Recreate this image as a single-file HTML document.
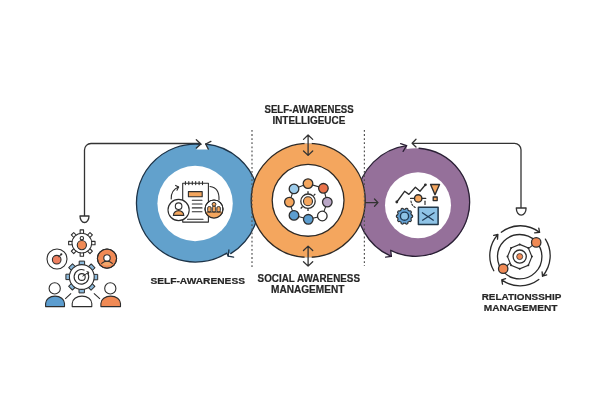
<!DOCTYPE html>
<html><head><meta charset="utf-8">
<style>
html,body{margin:0;padding:0;background:#fff;width:600px;height:420px;overflow:hidden}
svg{display:block;will-change:transform}
text{font-family:"Liberation Sans",sans-serif;font-weight:bold;fill:#262626;stroke:#262626;stroke-width:0.2}
</style></head>
<body>
<svg width="600" height="420" viewBox="0 0 600 420">
<g fill="none" stroke="#333" stroke-width="1.3" stroke-linecap="round" stroke-linejoin="round">
  <!-- left connector -->
  <path d="M84.5 216 V150 A6.5 6.5 0 0 1 91 143.5 H200"/>
  <path d="M80 216 H89 A4.5 6.5 0 0 1 80 216 Z" fill="#fff"/>
  <!-- right connector -->
  <path d="M521 208 V149.8 A6.5 6.5 0 0 0 514.5 143.3 H413"/>
  <path d="M516.3 208 H526.1 A4.9 7.2 0 0 1 516.3 208 Z" fill="#fff"/>
</g>

<!-- purple ring -->
<path d="M391.4 256.4 A58 58 0 0 1 406.6 145.7 L406.6 149.1 A54.1 54.1 0 1 1 390.7 250.3 Z" fill="#95709A"/>
<g fill="none" stroke="#2a2035" stroke-width="1.3" stroke-linecap="round" stroke-linejoin="round">
  <path d="M391.4 256.4 A58 58 0 0 1 406.6 145.7"/>
  <path d="M419 148.25 A54.1 54.1 0 1 1 390.7 250.3 L391.4 256.4 L385.6 257.2"/>
  <path d="M400.6 143.7 L406.6 145.7 L403.1 151.4"/>
</g>
<circle cx="418" cy="205.2" r="33" fill="#fff"/>

<!-- blue ring -->
<path d="M200.9 144.36 A59 59 0 1 0 226.8 253.1 L230.75 253.6 A59.3 59.3 0 0 0 205.7 144 L208.3 149.4 L196.3 149.4 Z" fill="#62A1CC"/>
<g fill="none" stroke="#1d3347" stroke-width="1.3" stroke-linecap="round" stroke-linejoin="round">
  <path d="M200.9 144.36 A59 59 0 1 0 226.8 253.1 L228.2 256.1"/>
  <path d="M230.75 253.6 A59.3 59.3 0 0 0 205.7 144"/>
  <path d="M228.9 250 L228.2 256.1 L233.6 257.1"/>
</g>
<circle cx="195.1" cy="203.5" r="37.7" fill="#fff"/>

<!-- orange ring -->
<circle cx="308.2" cy="200.4" r="57" fill="#F4A65E" stroke="#2e2a26" stroke-width="1.3"/>
<circle cx="308.1" cy="200.35" r="35.9" fill="#fff" stroke="#2e2a26" stroke-width="1.3"/>

<!-- left group icon -->
<g stroke="#2d2d2d" stroke-width="1.1" stroke-linejoin="round">
  <rect x="80.15" y="229.9" width="3.4" height="4.2" fill="#fff" stroke-width="1.1" transform="rotate(0.0 81.85 243.1)"/>
  <rect x="80.15" y="229.9" width="3.4" height="4.2" fill="#fff" stroke-width="1.1" transform="rotate(45.0 81.85 243.1)"/>
  <rect x="80.15" y="229.9" width="3.4" height="4.2" fill="#fff" stroke-width="1.1" transform="rotate(90.0 81.85 243.1)"/>
  <rect x="80.15" y="229.9" width="3.4" height="4.2" fill="#fff" stroke-width="1.1" transform="rotate(135.0 81.85 243.1)"/>
  <rect x="80.15" y="229.9" width="3.4" height="4.2" fill="#fff" stroke-width="1.1" transform="rotate(180.0 81.85 243.1)"/>
  <rect x="80.15" y="229.9" width="3.4" height="4.2" fill="#fff" stroke-width="1.1" transform="rotate(225.0 81.85 243.1)"/>
  <rect x="80.15" y="229.9" width="3.4" height="4.2" fill="#fff" stroke-width="1.1" transform="rotate(270.0 81.85 243.1)"/>
  <rect x="80.15" y="229.9" width="3.4" height="4.2" fill="#fff" stroke-width="1.1" transform="rotate(315.0 81.85 243.1)"/>
  <circle cx="81.85" cy="243.1" r="9.9" fill="#fff"/>
  <circle cx="81.85" cy="245.1" r="4.6" fill="#F08A55"/>
  <circle cx="81.85" cy="238.2" r="1.7" fill="#fff" stroke-width="1.1"/>
  <circle cx="57" cy="259" r="10" fill="#fff"/>
  <circle cx="56.7" cy="259.7" r="4.3" fill="#EE8060"/>
  <path d="M58.5 257.2 L61 254.5" fill="none"/>
  <circle cx="61.3" cy="254.3" r="1.1" fill="#2d2d2d" stroke="none"/>
  <circle cx="107" cy="258.6" r="9.6" fill="#F08A55"/>
  <path d="M101.6 263.8 Q107 258.8 112.4 263.8 A9.6 9.6 0 0 1 101.6 263.8 Z" fill="#F3A76B" stroke="none"/>
  <path d="M101.3 263.6 Q107 258.6 112.7 263.6" fill="none"/>
  <circle cx="107" cy="257.9" r="3.2" fill="#fff"/>
  <circle cx="107" cy="258.6" r="9.6" fill="none"/>
  <rect x="79.2" y="261.1" width="5.4" height="4.6" fill="#8AB8DA" stroke-width="1.0" transform="rotate(0.0 81.8 277)"/>
  <rect x="79.2" y="261.1" width="5.4" height="4.6" fill="#8AB8DA" stroke-width="1.0" transform="rotate(45.0 81.8 277)"/>
  <rect x="79.2" y="261.1" width="5.4" height="4.6" fill="#8AB8DA" stroke-width="1.0" transform="rotate(90.0 81.8 277)"/>
  <rect x="79.2" y="261.1" width="5.4" height="4.6" fill="#8AB8DA" stroke-width="1.0" transform="rotate(135.0 81.8 277)"/>
  <rect x="79.2" y="261.1" width="5.4" height="4.6" fill="#8AB8DA" stroke-width="1.0" transform="rotate(180.0 81.8 277)"/>
  <rect x="79.2" y="261.1" width="5.4" height="4.6" fill="#8AB8DA" stroke-width="1.0" transform="rotate(225.0 81.8 277)"/>
  <rect x="79.2" y="261.1" width="5.4" height="4.6" fill="#8AB8DA" stroke-width="1.0" transform="rotate(270.0 81.8 277)"/>
  <rect x="79.2" y="261.1" width="5.4" height="4.6" fill="#8AB8DA" stroke-width="1.0" transform="rotate(315.0 81.8 277)"/>
  <circle cx="81.8" cy="277" r="12.4" fill="#fff"/>
  <path d="M87.5 272.8 A7.3 7.3 0 1 1 84.5 270.2" fill="none"/>
  <circle cx="81.8" cy="277" r="3.4" fill="none"/>
  <path d="M82.5 276.3 L88.6 272.3 M86.6 271.5 L88.8 272.2 L88.2 274.4" fill="none" stroke-width="1"/>
  <path d="M65.2 298.9 L71.1 293.3 M93.9 293.3 L100 298.9" fill="none"/>
  <circle cx="54.7" cy="288.4" r="5.6" fill="#fff"/>
  <path d="M45.6 306.6 V303.5 A9.45 7.4 0 0 1 64.5 303.5 V306.6 Z" fill="#5C9DCF"/>
  <path d="M72.2 306.6 V303.5 A9.8 7.4 0 0 1 91.8 303.5 V306.6 Z" fill="#fff"/>
  <circle cx="110.3" cy="288.4" r="5.6" fill="#fff"/>
  <path d="M100.9 306.6 V303.5 A9.8 7.4 0 0 1 120.5 303.5 V306.6 Z" fill="#F08A55"/>
</g>

<!-- blue inner icon -->
<g stroke="#2d2d2d" stroke-width="1.1" fill="none" stroke-linecap="round" stroke-linejoin="round">
  <rect x="182.7" y="183.3" width="25.7" height="38.8" fill="#fff"/>
  <path d="M185.4 181.6v3M188.8 181.6v3M192.3 181.6v3M195.7 181.6v3M199.1 181.6v3M202.5 181.6v3"/>
  <rect x="188.4" y="191.6" width="13.8" height="5.2" fill="#F4A65E"/>
  <path d="M192.3 200.3h9.7M192.3 204h9.7M192.3 207.9h9.7M192.3 211.7h9.7M187.5 219.3h15.5"/>
  <path d="M171.2 199 Q171 190 178.6 187.1"/>
  <path d="M175.6 185.4 L178.6 187.1 L177 190.2"/>
  <path d="M210 186.5 Q219.5 187.5 219 200"/>
</g>
<g stroke="#2d2d2d" stroke-width="1.1">
  <circle cx="178.6" cy="210" r="10.6" fill="#fff"/>
  <circle cx="178.6" cy="206.2" r="3.3" fill="#fff"/>
  <path d="M173.4 215.4 A5.2 4.8 0 0 1 183.8 215.4 Z" fill="#F4A65E"/>
  <circle cx="214" cy="209" r="9" fill="#fff"/>
  <path d="M205.4 211.6 A9 9 0 0 0 222.6 211.6 Z" fill="#F4A65E" stroke="none"/>
  <circle cx="214" cy="209" r="9" fill="none" stroke-width="1.2"/>
</g>
<g stroke="#2d2d2d" stroke-width="0.95" fill="#F4A65E">
  <rect x="207.7" y="206.6" width="3.4" height="5.4" rx="1.3"/>
  <rect x="212.3" y="206.2" width="3.4" height="5.8" rx="1.3"/>
  <rect x="216.9" y="206.6" width="3.4" height="5.4" rx="1.3"/>
  <circle cx="214" cy="204.3" r="1.9"/>
  <path d="M207 212 H221" fill="none"/>
</g>


<!-- purple inner icon -->
<g stroke="#2d2d2d" stroke-width="1.35" fill="none" stroke-linecap="round" stroke-linejoin="round">
  <path d="M396.8 202 L404.6 191.3 L408.9 194.4 L415.4 187.3 L420 191.2 L425.4 184.8"/>
  <path d="M410.6 198.4 H425.7"/>
  <path d="M411 201 Q411.5 206 416.5 208" stroke-dasharray="1.6 1.6" stroke-width="1.1"/>
  <path d="M425 201.2 V204.4" stroke-width="1.2"/>
</g>
<circle cx="396.8" cy="202" r="1.4" fill="#2d2d2d"/>
<circle cx="425.4" cy="184.8" r="1.4" fill="#2d2d2d"/>
<g stroke="#2d2d2d" stroke-width="1.4" stroke-linejoin="round">
  <circle cx="418.2" cy="198.4" r="3.7" fill="#F4A65E"/>
  <path d="M430.6 184.5 H439.5 L435 194.8 Z" fill="#F4A65E"/>
  <rect x="433.2" y="197" width="4" height="3.6" fill="#F4A65E" stroke-width="1.3"/>
  <rect x="418.4" y="207.3" width="19.7" height="17.2" fill="#8EC3E6" stroke="#22384a" stroke-width="1.5"/>
  <path d="M422 212.5 L433.7 220.6 M434.5 212.5 L422.2 220.6" fill="none" stroke="#1f3a55" stroke-width="1.2"/>
</g>
<g stroke="#2d2d2d" stroke-width="1.1">
  <path d="M411.37 214.85 A1.35 1.35 0 0 1 411.37 217.55 A7.00 7.00 0 0 1 410.85 219.15 A1.35 1.35 0 0 1 409.26 221.33 A7.00 7.00 0 0 1 407.91 222.32 A1.35 1.35 0 0 1 405.34 223.15 A7.00 7.00 0 0 1 403.66 223.15 A1.35 1.35 0 0 1 401.09 222.32 A7.00 7.00 0 0 1 399.74 221.33 A1.35 1.35 0 0 1 398.15 219.15 A7.00 7.00 0 0 1 397.63 217.55 A1.35 1.35 0 0 1 397.63 214.85 A7.00 7.00 0 0 1 398.15 213.25 A1.35 1.35 0 0 1 399.74 211.07 A7.00 7.00 0 0 1 401.09 210.08 A1.35 1.35 0 0 1 403.66 209.25 A7.00 7.00 0 0 1 405.34 209.25 A1.35 1.35 0 0 1 407.91 210.08 A7.00 7.00 0 0 1 409.26 211.07 A1.35 1.35 0 0 1 410.85 213.25 A7.00 7.00 0 0 1 411.37 214.85 Z" fill="#64A2D4"/>
  <circle cx="404.5" cy="216.2" r="4.1" fill="#8EC3E6" stroke="#1f3a55" stroke-width="1.4"/>
</g>

<!-- orange inner icon -->
<g stroke="#2d2d2d" stroke-width="1.1" fill="none">
  <polygon points="308,183.6 323.4,188.3 327.3,202.1 322.3,216 308.3,219.3 294,215.4 289.4,202.1 294,188.9"/>
</g>
<g stroke="#2d2d2d" stroke-width="1.3">
  <circle cx="308" cy="183.6" r="4.8" fill="#F4A65E"/>
  <circle cx="323.4" cy="188.3" r="4.8" fill="#E9734B"/>
  <circle cx="327.3" cy="202.1" r="4.8" fill="#B9A6C6"/>
  <circle cx="322.3" cy="216" r="4.8" fill="#fff"/>
  <circle cx="308.3" cy="219.3" r="4.8" fill="#5C9DCF"/>
  <circle cx="294" cy="215.4" r="4.8" fill="#5C9DCF"/>
  <circle cx="289.4" cy="202.1" r="4.8" fill="#F4A65E"/>
  <circle cx="294" cy="188.9" r="4.8" fill="#9CCBEA"/>
  <circle cx="308" cy="201.2" r="7.2" fill="#fff" stroke-width="1.3"/>
  <circle cx="308" cy="201.2" r="4.5" fill="#F4A65E" stroke-width="1.1"/>
</g>
<g stroke="#2d2d2d" stroke-width="0.9" fill="none">
  <path d="M308 191.3v2.4M315.3 193.9l-1.7 1.7M308 211.1v-2.4M300.7 208.5l1.7-1.7" stroke="#2d2d2d" stroke-width="1.3"/>
</g>

<!-- dotted lines -->
<g stroke="#555" stroke-width="1.2" stroke-dasharray="1.8 2.3">
  <line x1="252" y1="130" x2="252" y2="267"/>
  <line x1="364.4" y1="130" x2="364.4" y2="266"/>
</g>

<rect x="304.6" y="141.8" width="7.1" height="1.9" fill="#fff"/>
<rect x="304.6" y="143.7" width="7.1" height="2" fill="#F4A65E"/>
<rect x="304.6" y="255.2" width="7.1" height="2.1" fill="#F4A65E"/>
<rect x="304.6" y="257.3" width="7.1" height="1.9" fill="#fff"/>
<!-- arrows -->
<g fill="none" stroke="#333" stroke-width="1.3" stroke-linecap="round" stroke-linejoin="round">
  <path d="M196.3 139.7 L200.9 144 L196.3 148"/>
  <path d="M210.9 141.4 L205.7 144 L208.3 149.1"/>
  <path d="M308.1 135 V155.4 M303.5 139.4 L308.1 135 L312.7 139.4 M303.5 151 L308.1 155.4 L312.7 151"/>
  <path d="M308.1 246.1 V266.1 M303.5 250.5 L308.1 246.1 L312.7 250.5 M303.5 261.7 L308.1 266.1 L312.7 261.7"/>
  <path d="M365.5 202.6 H378 M374.5 199 L378 202.6 L374.5 206.2"/>
  <path d="M416 139.3 L412.1 143.2 L416 147"/>
</g>


<!-- relationship icon -->
<g stroke="#2a2a2a" stroke-width="1.3" fill="none" stroke-linecap="round" stroke-linejoin="round">
  <circle cx="519.7" cy="256.7" r="22.2"/>
  <path d="M501.3 232.2 A31.2 31.2 0 0 1 539.6 232.4 M534.6 232.8 L539.6 232.4 L538.8 228.2"/>
  <path d="M545.4 239.1 A31.2 31.2 0 0 1 542.5 276.2 M542.1 271.8 L542.5 276.2 L546.7 274.9"/>
  <path d="M538.8 279.5 A31.2 31.2 0 0 1 501.7 279.9 M505.6 278.6 L501.7 279.9 L502.5 284.1"/>
  <path d="M493.8 270.8 A31.2 31.2 0 0 1 497.9 234.5 M493.7 235.4 L497.9 234.5 L497.5 239.1"/>
</g>
<g stroke="#2d2d2d" stroke-width="1.1">
  <path d="M503.2 268.7 L536.2 242.4" fill="none"/>
  <path d="M519.70 244.40 L528.33 247.97 L531.90 256.60 L528.33 265.23 L519.70 268.80 L511.07 265.23 L507.50 256.60 L511.07 247.97 Z" fill="#fff" stroke-width="1.15"/>
  <circle cx="519.70" cy="244.40" r="1" fill="#2d2d2d" stroke="none"/>
  <circle cx="528.33" cy="247.97" r="1" fill="#2d2d2d" stroke="none"/>
  <circle cx="531.90" cy="256.60" r="1" fill="#2d2d2d" stroke="none"/>
  <circle cx="528.33" cy="265.23" r="1" fill="#2d2d2d" stroke="none"/>
  <circle cx="519.70" cy="268.80" r="1" fill="#2d2d2d" stroke="none"/>
  <circle cx="511.07" cy="265.23" r="1" fill="#2d2d2d" stroke="none"/>
  <circle cx="507.50" cy="256.60" r="1" fill="#2d2d2d" stroke="none"/>
  <circle cx="511.07" cy="247.97" r="1" fill="#2d2d2d" stroke="none"/>
  <circle cx="519.7" cy="256.6" r="6.6" fill="#fff" stroke-width="1.3"/>
  <circle cx="519.7" cy="256.6" r="3" fill="#F08A55" stroke-width="0.8"/>
  <circle cx="536.2" cy="242.4" r="4.7" fill="#F08A55" stroke-width="1.3"/>
  <circle cx="503.2" cy="268.7" r="4.7" fill="#F08A55" stroke-width="1.3"/>
</g>

<!-- texts -->
<text x="264.5" y="112.9" font-size="10.4" textLength="89.2" lengthAdjust="spacingAndGlyphs">SELF-AWARENESS</text>
<text x="272.4" y="124" font-size="10.4" textLength="72.9" lengthAdjust="spacingAndGlyphs">INTELLIGEUCE</text>
<text x="150.4" y="284.3" font-size="9.6" textLength="94.6" lengthAdjust="spacingAndGlyphs">SELF-AWARENESS</text>
<text x="257.6" y="281.7" font-size="10.4" textLength="102.4" lengthAdjust="spacingAndGlyphs">SOCIAL AWARENESS</text>
<text x="271" y="292.9" font-size="10.4" textLength="73.4" lengthAdjust="spacingAndGlyphs">MANAGEMENT</text>
<text x="481.7" y="299.7" font-size="9.8" textLength="79.6" lengthAdjust="spacingAndGlyphs">RELATIONSSHIP</text>
<text x="483.7" y="310.8" font-size="9.8" textLength="73.8" lengthAdjust="spacingAndGlyphs">MANAGEMENT</text>
</svg>
</body></html>
